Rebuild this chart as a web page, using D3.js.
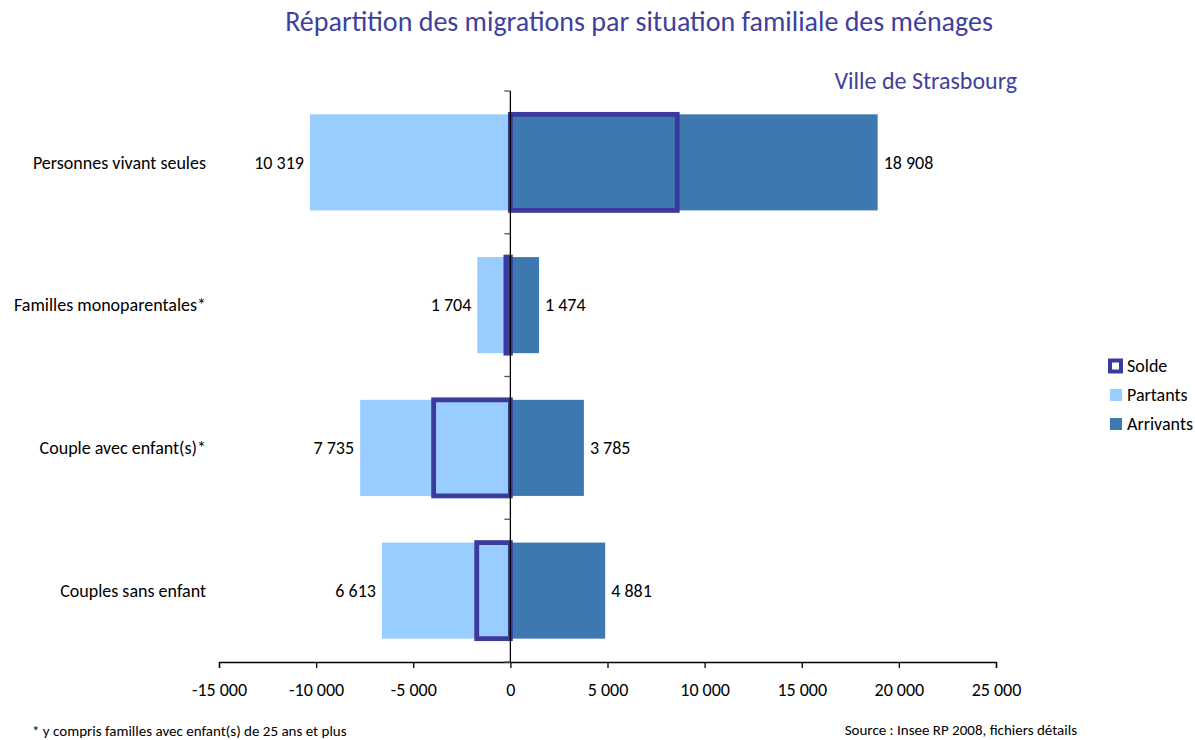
<!DOCTYPE html>
<html><head><meta charset="utf-8">
<script src="https://cdn.jsdelivr.net/npm/d3@7"></script>
<style>
body{margin:0;background:#fff;}
text{font-family:Carlito,Lato,"Open Sans",sans-serif;}
</style></head>
<body>
<svg id="chart" width="1195" height="740"></svg>
<script>
const categories = ["Personnes vivant seules","Familles monoparentales*","Couple avec enfant(s)*","Couples sans enfant"];
const partants = [10319,1704,7735,6613];
const arrivants = [18908,1474,3785,4881];
const solde = [8589,-230,-3950,-1732];
const xTicks = [-15000,-10000,-5000,0,5000,10000,15000,20000,25000];
const legendLabels = ["Solde","Partants","Arrivants"];

const cPart = "#99CCFF", cArr = "#3D79B0", cSolde = "#3A3A9C", cTitle = "#3F3F9E";
const loc = d3.formatLocale({decimal:",", thousands:"\u00a0", grouping:[3], currency:["","€"], minus:"-"});
const fmt = loc.format(",d");

const svg = d3.select("#chart");
const x = d3.scaleLinear().domain([-15000,25000]).range([219,996]);
const y = d3.scaleBand().domain(categories).range([91,662]).paddingInner(0.327).paddingOuter(0.1635);
const step = y.step();

// title
svg.append("text").attr("x",639).attr("y",31).attr("text-anchor","middle")
  .attr("font-size",28).attr("fill",cTitle).text("Répartition des migrations par situation familiale des ménages");
svg.append("text").attr("x",1017).attr("y",89).attr("text-anchor","end")
  .attr("font-size",24).attr("fill",cTitle).text("Ville de Strasbourg");

const idx = d3.range(categories.length);
// partants
svg.append("g").selectAll("rect").data(idx).join("rect")
  .attr("x",i=>x(-partants[i])).attr("width",i=>x(0)-x(-partants[i]))
  .attr("y",i=>y(categories[i])).attr("height",y.bandwidth()).attr("fill",cPart);
// arrivants
svg.append("g").selectAll("rect").data(idx).join("rect")
  .attr("x",x(0)).attr("width",i=>x(arrivants[i])-x(0))
  .attr("y",i=>y(categories[i])).attr("height",y.bandwidth()).attr("fill",cArr);
// solde
svg.append("g").selectAll("rect").data(idx).join("rect")
  .attr("x",i=>Math.min(x(0),x(solde[i]))).attr("width",i=>Math.abs(x(solde[i])-x(0)))
  .attr("y",i=>y(categories[i])).attr("height",y.bandwidth())
  .attr("fill","none").attr("stroke",cSolde).attr("stroke-width",4.8);

// value labels
svg.append("g").selectAll("text").data(idx).join("text")
  .attr("x",i=>x(-partants[i])-6).attr("y",i=>y(categories[i])+y.bandwidth()/2)
  .attr("dy","0.35em").attr("text-anchor","end").attr("font-size",18).attr("fill","#000")
  .text(i=>fmt(partants[i]));
svg.append("g").selectAll("text").data(idx).join("text")
  .attr("x",i=>x(arrivants[i])+6).attr("y",i=>y(categories[i])+y.bandwidth()/2)
  .attr("dy","0.35em").attr("text-anchor","start").attr("font-size",18).attr("fill","#000")
  .text(i=>fmt(arrivants[i]));
// category labels
svg.append("g").selectAll("text").data(categories).join("text")
  .attr("x",206).attr("y",d=>y(d)+y.bandwidth()/2).attr("dy","0.35em")
  .attr("text-anchor","end").attr("font-size",18).attr("fill","#000").text(d=>d);

// x axis
const xAxis = svg.append("g").attr("transform","translate(0,662)")
  .call(d3.axisBottom(x).tickValues(xTicks).tickSize(6).tickPadding(15).tickFormat(d=>fmt(d)));
xAxis.select(".domain").attr("stroke","#000").attr("stroke-width",1.3);
xAxis.selectAll(".tick line").attr("stroke","#000").attr("stroke-width",1.3);
xAxis.selectAll("text").attr("font-size",18).attr("fill","#000")
  .style("font-family","Carlito,Lato,'Open Sans',sans-serif");

// vertical axis at 0
const yg = svg.append("g");
yg.append("line").attr("x1",x(0)).attr("x2",x(0)).attr("y1",91).attr("y2",662)
  .attr("stroke","#000").attr("stroke-width",1.3);
yg.selectAll(".yt").data(d3.range(categories.length+1)).join("line").attr("class","yt")
  .attr("x1",x(0)-6).attr("x2",x(0)).attr("y1",k=>91+k*step).attr("y2",k=>91+k*step)
  .attr("stroke","#555").attr("stroke-width",1.3);

// legend
const lg = svg.append("g");
const ly = [366,395,424];
lg.append("rect").attr("x",1110).attr("y",ly[0]-5.5).attr("width",11).attr("height",11)
  .attr("fill","#fff").attr("stroke",cSolde).attr("stroke-width",4);
lg.append("rect").attr("x",1110).attr("y",ly[1]-6).attr("width",12).attr("height",12).attr("fill",cPart);
lg.append("rect").attr("x",1110).attr("y",ly[2]-6).attr("width",12).attr("height",12).attr("fill",cArr);
lg.selectAll("text").data(legendLabels).join("text")
  .attr("x",1127).attr("y",(d,i)=>ly[i]).attr("dy","0.35em").attr("font-size",18).attr("fill","#000").text(d=>d);

// footnotes
svg.append("text").attr("x",32).attr("y",735.5).attr("font-size",15).attr("fill","#000")
  .text("* y compris familles avec enfant(s) de 25 ans et plus");
svg.append("text").attr("x",1077).attr("y",735).attr("text-anchor","end").attr("font-size",15).attr("fill","#000")
  .text("Source : Insee RP 2008, fichiers détails");
</script>
</body></html>
